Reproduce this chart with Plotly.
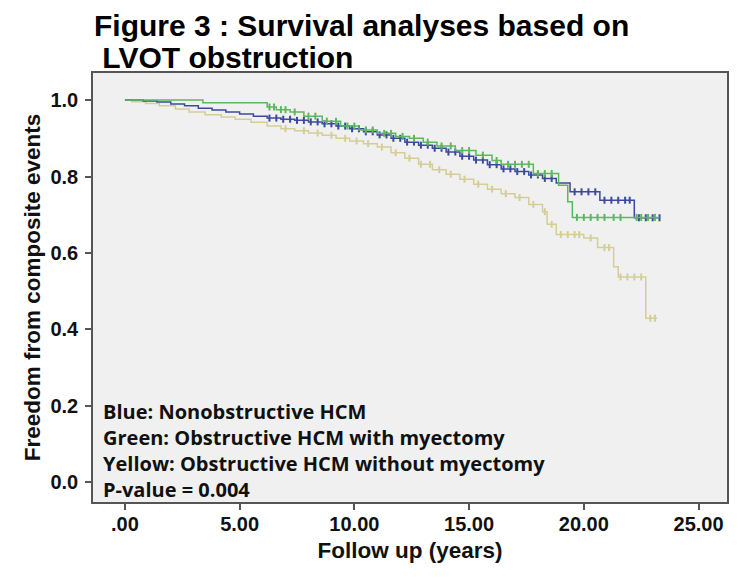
import plotly.graph_objects as go
import numpy as np

# Kaplan-Meier step data (time in years, survival)
blue_t = [0, 0.8, 1.4, 2.0, 2.6, 3.2, 3.8, 4.4, 5.0, 5.6, 6.2, 6.8, 7.4, 8.0, 8.6, 9.2, 9.8, 10.4, 11.0,
          11.6, 12.2, 12.8, 13.4, 14.0, 14.6, 15.2, 15.8, 16.4, 17.0, 17.6, 18.2, 18.8, 19.4, 20.7, 22.2, 23.3]
blue_s = [1.0, 0.998, 0.995, 0.99, 0.985, 0.979, 0.974, 0.969, 0.964, 0.958, 0.953, 0.950, 0.947, 0.943,
          0.938, 0.932, 0.925, 0.917, 0.909, 0.900, 0.890, 0.882, 0.874, 0.864, 0.853, 0.843, 0.831, 0.820,
          0.813, 0.804, 0.795, 0.783, 0.760, 0.738, 0.692, 0.692]

green_t = [0, 3.4, 6.2, 6.6, 7.2, 7.8, 8.6, 9.4, 10.2, 11.0, 11.8, 12.4, 13.0, 13.6, 14.4, 15.3, 16.0,
           16.4, 17.8, 18.9, 19.3, 19.5, 23.3]
green_s = [1.0, 0.993, 0.982, 0.975, 0.969, 0.958, 0.945, 0.932, 0.922, 0.913, 0.905, 0.900, 0.890,
           0.880, 0.868, 0.856, 0.842, 0.832, 0.808, 0.777, 0.734, 0.693, 0.693]

yellow_t = [0, 0.3, 0.9, 1.5, 2.2, 2.8, 3.5, 4.2, 4.8, 5.5, 6.2, 6.8, 7.4, 8.0, 8.6, 9.2, 9.8, 10.4,
            11.0, 11.6, 12.2, 12.8, 13.4, 14.0, 14.6, 15.2, 15.8, 16.4, 17.0, 17.6, 18.2, 18.4, 18.8,
            20.0, 20.6, 21.3, 21.5, 22.7, 23.2]
yellow_s = [1.0, 0.996, 0.991, 0.985, 0.977, 0.969, 0.962, 0.956, 0.950, 0.942, 0.932, 0.925, 0.920,
            0.914, 0.908, 0.900, 0.893, 0.886, 0.877, 0.862, 0.848, 0.832, 0.818, 0.806, 0.793, 0.780,
            0.767, 0.755, 0.745, 0.727, 0.708, 0.675, 0.648, 0.639, 0.614, 0.564, 0.537, 0.429, 0.429]

# censor mark times
blue_cens = [6.3, 6.6, 6.9, 7.2, 7.5, 7.8, 8.1, 8.4, 8.7, 9.0, 9.3, 9.6, 9.9, 10.2, 10.5, 10.8, 11.1, 11.4,
             11.7, 12.0, 12.3, 12.6, 12.9, 13.2, 13.5, 13.8, 14.1, 14.4, 14.7, 15.0, 15.3, 15.6, 15.9,
             16.2, 16.5, 16.8, 17.1, 17.4, 17.7, 18.0, 18.3, 18.6, 19.6, 19.9, 20.2, 20.5, 20.9, 21.2,
             21.5, 21.8, 22.0, 22.4, 22.7, 23.0, 23.3]
green_cens = [6.3, 6.5, 6.8, 7.0, 7.4, 8.0, 8.3, 8.8, 9.2, 9.7, 10.0, 10.5, 10.8, 11.3, 11.6, 12.1, 12.6,
              13.2, 13.8, 14.2, 14.7, 15.0, 15.6, 16.2, 16.7, 17.0, 17.3, 17.6, 18.0, 18.3, 18.6,
              19.7, 20.0, 20.3, 20.6, 20.9, 21.3, 21.6, 22.3, 22.5, 22.8, 23.1]
yellow_cens = [7.0, 7.8, 8.4, 9.0, 9.6, 10.1, 10.6, 11.2, 11.8, 12.4, 12.9, 13.3, 13.7, 14.2, 14.8,
               15.4, 16.0, 16.6, 17.2, 17.8, 18.3, 18.6, 19.0, 19.3, 19.6, 19.8, 20.3, 20.9, 21.1,
               21.6, 21.9, 22.2, 22.5, 22.9, 23.1]

x_ticks = [0, 5, 10, 15, 20, 25]
x_ticktext = [".00", "5.00", "10.00", "15.00", "20.00", "25.00"]
y_ticks = [0, 0.2, 0.4, 0.6, 0.8, 1.0]
y_ticktext = ["0.0", "0.2", "0.4", "0.6", "0.8", "1.0"]

legend_lines = ["Blue: Nonobstructive HCM",
                "Green: Obstructive HCM with myectomy",
                "Yellow: Obstructive HCM without myectomy",
                "P-value = 0.004"]

title_lines = ["Figure 3 : Survival analyses based on", " LVOT obstruction"]

colors = {"blue": "#3b4aa0", "green": "#5cb85c", "yellow": "#d4cd96"}


def step_lookup(ts, ss, t):
    idx = np.searchsorted(np.array(ts), t, side="right") - 1
    return ss[max(idx, 0)]


fig = go.Figure()
series = [
    ("yellow", yellow_t, yellow_s, yellow_cens),
    ("blue", blue_t, blue_s, blue_cens),
    ("green", green_t, green_s, green_cens),
]
for name, ts, ss, cens in series:
    fig.add_trace(go.Scatter(x=ts, y=ss, mode="lines", line=dict(shape="hv", color=colors[name], width=1.5),
                             showlegend=False, hoverinfo="skip"))
    fig.add_trace(go.Scatter(x=cens, y=[step_lookup(ts, ss, c) for c in cens], mode="markers",
                             marker=dict(symbol="line-ns", size=5, line=dict(color=colors[name], width=2)),
                             showlegend=False, hoverinfo="skip"))

SANS = "Liberation Sans, Arial, sans-serif"
axis_font = dict(family=SANS, size=20, color="#111", weight="bold")
title_font = dict(family=SANS, size=22.5, color="#111", weight="bold")

# the page shows the figure offset by about 8 px; margins compensate so the plot box lands where it should
fig.update_layout(
    width=738, height=583,
    margin=dict(l=85, r=19, t=65, b=89),
    paper_bgcolor="white", plot_bgcolor="#f0f0f0",
    xaxis=dict(range=[-1.39, 26.24], tickvals=x_ticks, ticktext=x_ticktext, ticks="outside", ticklen=6,
               tickcolor="#555", tickwidth=1.5, showline=True, linecolor="#555", linewidth=1.5, mirror=True,
               showgrid=False, zeroline=False, tickfont=axis_font, automargin=False,
               ticklabelstandoff=-3,
               title=dict(text="Follow up (years)", font=title_font, standoff=8)),
    yaxis=dict(range=[-0.052, 1.071], tickvals=y_ticks, ticktext=y_ticktext, ticks="outside", ticklen=6,
               tickcolor="#555", tickwidth=1.5, showline=True, linecolor="#555", linewidth=1.5, mirror=True,
               showgrid=False, zeroline=False, tickfont=axis_font, automargin=False,
               ticklabelstandoff=3,
               title=dict(text="Freedom from composite events", font=title_font, standoff=4)),
)

# chart title as two lines
for txt, py in zip(title_lines, [25, 58]):
    fig.add_annotation(text=txt, xref="paper", yref="paper", x=(92 - 93) / 634, y=(502 - py) / 429,
                       xanchor="left", yanchor="middle", showarrow=False,
                       font=dict(family=SANS, size=30, color="black", weight="bold"))

# legend text block (four lines, 26 px apart, centred at y = 450 px)
fig.add_annotation(text="<br>".join(legend_lines), xref="paper", yref="paper",
                   x=(101 - 93) / 634, y=(502 - 450) / 429, xanchor="left", yanchor="middle",
                   align="left", showarrow=False,
                   font=dict(family="Open Sans, Noto Sans, sans-serif", size=20, color="#111", weight="bold"))

fig.write_html("out.html")
